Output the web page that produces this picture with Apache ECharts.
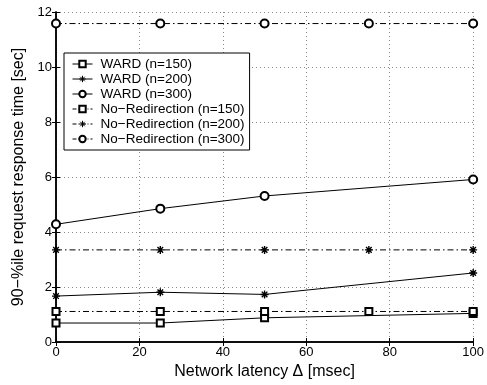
<!DOCTYPE html>
<html lang="en">
<head>
    <meta charset="UTF-8">
    <title>90-%ile response time</title>
    <script src="https://cdn.jsdelivr.net/npm/echarts@6/dist/echarts.min.js"></script>
    <style>
        html, body { margin: 0; padding: 0; background: #fff; }
        #main { width: 487px; height: 385px; }
    </style>
</head>
<body>
<div id="main"></div>
<script>
    // data
    var wardX = [0, 25, 50, 100];
    var noRedirX = [0, 25, 50, 75, 100];
    var ward150 = [0.69, 0.69, 0.88, 1.04];
    var ward200 = [1.67, 1.81, 1.73, 2.51];
    var ward300 = [4.28, 4.85, 5.31, 5.91];
    var noRedir150 = [1.11, 1.11, 1.11, 1.11, 1.11];
    var noRedir200 = [3.35, 3.35, 3.35, 3.35, 3.35];
    var noRedir300 = [11.58, 11.58, 11.58, 11.58, 11.58];
    var xTicks = [0, 20, 40, 60, 80, 100];
    var yTicks = [0, 2, 4, 6, 8, 10, 12];
    var names = ['WARD (n=150)', 'WARD (n=200)', 'WARD (n=300)',
        'No\u2212Redirection (n=150)', 'No\u2212Redirection (n=200)', 'No\u2212Redirection (n=300)'];

    var star = 'path://M0,5L10,5M5,0L5,10M1.5,1.5L8.5,8.5M8.5,1.5L1.5,8.5';
    var dashDot = [6, 3, 1.5, 3];
    var font = 'Liberation Sans, Arial, sans-serif';

    function pairs(xs, ys) {
        return xs.map(function (x, i) { return [x, ys[i]]; });
    }

    function mk(name, xs, ys, symbol, size, dashed) {
        return {
            name: name,
            type: 'line',
            data: pairs(xs, ys),
            symbol: symbol,
            symbolSize: size,
            showAllSymbol: true,
            animation: false,
            lineStyle: { color: '#000', width: 1, type: dashed ? dashDot : 'solid' },
            itemStyle: {
                color: '#000',
                borderColor: '#000',
                borderWidth: symbol === star ? 1.4 : 1
            },
            emphasis: { disabled: true }
        };
    }

    var myChart = echarts.init(document.getElementById('main'));

    var gridLine = { show: true, lineStyle: { color: '#888', type: [1, 3], width: 1 } };

    var legendData = names.map(function (n, i) {
        return {
            name: n,
            lineStyle: { width: 1, type: i < 3 ? 'solid' : [4, 2, 1, 2] }
        };
    });

    var option = {
        backgroundColor: '#fff',
        animation: false,
        textStyle: { fontFamily: font },
        grid: { left: 56, right: 11, top: 12, bottom: 42 },
        legend: {
            orient: 'vertical',
            left: 64,
            top: 53,
            itemWidth: 20,
            itemHeight: 8,
            itemGap: 1,
            padding: [4, 5, 4, 8],
            borderColor: '#000',
            borderWidth: 1,
            backgroundColor: '#fff',
            itemStyle: { borderWidth: 1 },
            textStyle: { fontSize: 13.5, lineHeight: 13, color: '#000', fontFamily: font, padding: [0, 0, 0, 3] },
            data: legendData
        },
        xAxis: [{
            type: 'value',
            min: xTicks[0],
            max: xTicks[xTicks.length - 1],
            interval: 20,
            name: 'Network latency \u0394 [msec]',
            nameLocation: 'middle',
            nameGap: 22,
            nameTextStyle: { fontSize: 16, color: '#000', fontFamily: font },
            axisLine: { lineStyle: { color: '#000', width: 1.5 } },
            axisTick: { inside: true, length: 4, lineStyle: { color: '#000' } },
            axisLabel: { fontSize: 13, color: '#000', margin: 4, fontFamily: font },
            splitLine: gridLine
        }, {
            type: 'value',
            position: 'top',
            min: xTicks[0],
            max: xTicks[xTicks.length - 1],
            interval: 20,
            axisLine: { show: true, lineStyle: { color: '#000', width: 1.5 } },
            axisTick: { inside: true, length: 4, lineStyle: { color: '#000' } },
            axisLabel: { show: false },
            splitLine: { show: false }
        }],
        yAxis: [{
            type: 'value',
            min: yTicks[0],
            max: yTicks[yTicks.length - 1],
            interval: 2,
            name: '90\u2212%ile request response time [sec]',
            nameLocation: 'middle',
            nameGap: 28,
            nameTextStyle: { fontSize: 16, color: '#000', fontFamily: font },
            axisLine: { show: true, lineStyle: { color: '#000', width: 1.5 } },
            axisTick: { show: true, inside: true, length: 4, lineStyle: { color: '#000' } },
            axisLabel: { fontSize: 13, color: '#000', margin: 4, fontFamily: font },
            splitLine: gridLine
        }, {
            type: 'value',
            position: 'right',
            min: yTicks[0],
            max: yTicks[yTicks.length - 1],
            interval: 2,
            axisLine: { show: true, lineStyle: { color: '#000', width: 1.5 } },
            axisTick: { show: true, inside: true, length: 4, lineStyle: { color: '#000' } },
            axisLabel: { show: false },
            splitLine: { show: false }
        }],
        series: [
            mk(names[0], wardX, ward150, 'emptyRect', 7, false),
            mk(names[1], wardX, ward200, star, 8, false),
            mk(names[2], wardX, ward300, 'emptyCircle', 8, false),
            mk(names[3], noRedirX, noRedir150, 'emptyRect', 7, true),
            mk(names[4], noRedirX, noRedir200, star, 8, true),
            mk(names[5], noRedirX, noRedir300, 'emptyCircle', 8, true)
        ]
    };

    myChart.setOption(option);
</script>
</body>
</html>
